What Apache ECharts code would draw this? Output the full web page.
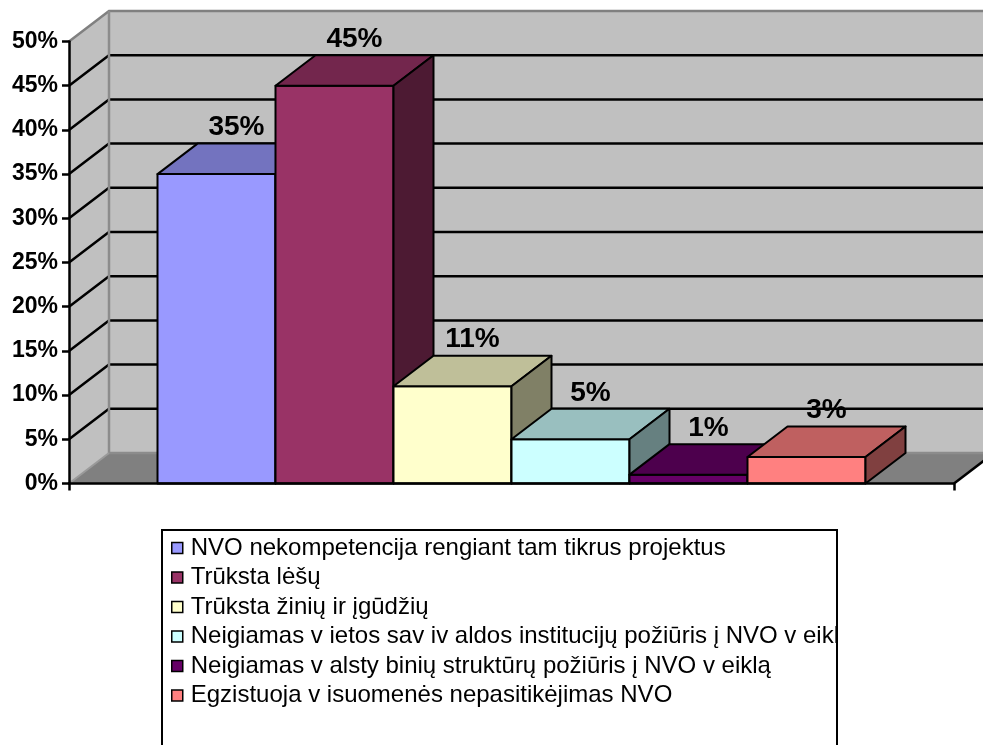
<!DOCTYPE html>
<html>
<head>
<meta charset="utf-8">
<script src="https://cdn.jsdelivr.net/npm/echarts@6/dist/echarts.min.js"></script>
<style>
html, body { margin: 0; padding: 0; background: #fff; }
#chart { width: 983px; height: 745px; }
</style>
</head>
<body>
<div id="chart"></div>
<script>
// duomenys
const names = [
  'NVO nekompetencija rengiant tam tikrus projektus',
  'Trūksta lėšų',
  'Trūksta žinių ir įgūdžių',
  'Neigiamas v ietos sav iv aldos institucijų požiūris į NVO v eiklą',
  'Neigiamas v alsty binių struktūrų požiūris į NVO v eiklą',
  'Egzistuoja v isuomenės nepasitikėjimas NVO'
]
const values = [35, 45, 11, 5, 1, 3]
const yTicks = [0, 5, 10, 15, 20, 25, 30, 35, 40, 45, 50]

// spalvos
const colors = ['#9999FF', '#993366', '#FFFFCC', '#CCFFFF', '#660066', '#FF8080']

// 3D gylio poslinkis pikseliais
const DX = 40
const DY = -30.5
const X_MIN = -0.75
const X_MAX = 6.75
const FONT = "'Liberation Sans', Arial, sans-serif"

function shade(hex, k) {
  const n = parseInt(hex.slice(1), 16)
  const r = Math.round(((n >> 16) & 255) * k)
  const g = Math.round(((n >> 8) & 255) * k)
  const b = Math.round((n & 255) * k)
  return 'rgb(' + r + ',' + g + ',' + b + ')'
}
function back(pt) {
  return [pt[0] + DX, pt[1] + DY]
}

let mychart = echarts.init(document.getElementById('chart'))

// sienos ir grindys
const wallSeries = {
  type: 'custom',
  silent: true,
  z: 1,
  data: [0],
  renderItem: function (params, api) {
    const top = yTicks[yTicks.length - 1]
    const fl = api.coord([X_MIN, 0])
    const fr = api.coord([X_MAX, 0])
    const tl = api.coord([X_MIN, top])
    const tr = api.coord([X_MAX, top])
    const children = []
    children.push({ type: 'polygon', shape: { points: [back(tl), back(tr), back(fr), back(fl)] }, style: { fill: '#c0c0c0' } })
    children.push({ type: 'polygon', shape: { points: [fl, tl, back(tl), back(fl)] }, style: { fill: '#c0c0c0' } })
    children.push({ type: 'polygon', shape: { points: [fl, fr, back(fr), back(fl)] }, style: { fill: '#808080' } })
    yTicks.forEach(function (t) {
      if (t === 0 || t === top) return
      const a = api.coord([X_MIN, t])
      const c = api.coord([X_MAX, t])
      children.push({ type: 'polyline', shape: { points: [a, back(a), back(c)] }, style: { stroke: '#000', lineWidth: 2.5, fill: null } })
    })
    // pilki krastai
    children.push({ type: 'polyline', shape: { points: [tl, back(tl), back(tr)] }, style: { stroke: '#808080', lineWidth: 2.5, fill: null } })
    children.push({ type: 'polyline', shape: { points: [back(tl), back(fl), back(fr)] }, style: { stroke: '#8c8c8c', lineWidth: 2.5, fill: null } })
    children.push({ type: 'line', shape: { x1: fl[0], y1: fl[1], x2: back(fl)[0], y2: back(fl)[1] }, style: { stroke: '#9a9a9a', lineWidth: 2 } })
    children.push({ type: 'line', shape: { x1: fr[0], y1: fr[1], x2: back(fr)[0], y2: back(fr)[1] }, style: { stroke: '#000', lineWidth: 2.5 } })
    return { type: 'group', children: children }
  }
}

// stulpeliai
const barSeries = names.map(function (name, i) {
  return {
    name: name,
    type: 'custom',
    z: 2,
    itemStyle: { color: colors[i] },
    data: [[i, values[i]]],
    renderItem: function (params, api) {
      const x = api.value(0)
      const v = api.value(1)
      const fb = api.coord([x, 0])
      const ft = api.coord([x, v])
      const rb = api.coord([x + 1, 0])
      const rt = api.coord([x + 1, v])
      const edge = { stroke: '#000', lineWidth: 2, lineJoin: 'round' }
      return {
        type: 'group',
        children: [
          { type: 'polygon', shape: { points: [fb, ft, rt, rb] }, style: Object.assign({ fill: colors[i] }, edge) },
          { type: 'polygon', shape: { points: [ft, rt, back(rt), back(ft)] }, style: Object.assign({ fill: shade(colors[i], 0.75) }, edge) },
          { type: 'polygon', shape: { points: [rb, rt, back(rt), back(rb)] }, style: Object.assign({ fill: shade(colors[i], 0.5) }, edge) },
          {
            type: 'text',
            style: {
              text: v + '%',
              x: (ft[0] + rt[0]) / 2 + DX / 2,
              y: ft[1] + DY - 16,
              align: 'center',
              verticalAlign: 'middle',
              fill: '#000',
              font: 'bold 28px ' + FONT
            }
          }
        ]
      }
    }
  }
})

mychart.setOption({
  animation: false,
  grid: {
    left: 69,
    right: 29,
    top: 41.5,
    bottom: 261.5
  },
  xAxis: {
    type: 'value',
    min: X_MIN,
    max: X_MAX,
    z: 5,
    splitLine: { show: false },
    axisLabel: { show: false },
    axisLine: { show: true, onZero: false, lineStyle: { color: '#000', width: 2.5 } },
    axisTick: { show: true, customValues: [X_MIN, X_MAX], length: 7, lineStyle: { color: '#000', width: 2.5 } }
  },
  yAxis: {
    type: 'value',
    min: 0,
    max: 50,
    interval: 5,
    z: 5,
    splitLine: { show: false },
    axisLine: { show: true, onZero: false, lineStyle: { color: '#000', width: 2.5 } },
    axisTick: { show: true, length: 7, lineStyle: { color: '#000', width: 2.5 } },
    axisLabel: {
      formatter: '{value}%',
      margin: 11,
      color: '#000',
      fontSize: 23,
      fontWeight: 'bold',
      fontFamily: FONT
    }
  },
  legend: {
    orient: 'vertical',
    left: 162,
    top: 530,
    padding: [6, 0, 0, 9],
    itemGap: 5.5,
    itemWidth: 11,
    itemHeight: 11,
    icon: 'rect',
    itemStyle: { borderColor: '#000', borderWidth: 1.5 },
    textStyle: {
      color: '#000',
      fontSize: 24,
      lineHeight: 24,
      fontFamily: FONT,
      padding: [0, 0, 0, 3]
    },
    data: names
  },
  // legendos rėmelis, nukerpa per ilgą tekstą
  graphic: [
    {
      type: 'rect',
      z: 100,
      silent: true,
      shape: { x: 837, y: 530, width: 146, height: 215 },
      style: { fill: '#fff' }
    },
    {
      type: 'rect',
      z: 101,
      silent: true,
      shape: { x: 162, y: 530, width: 675, height: 240 },
      style: { fill: null, stroke: '#000', lineWidth: 2 }
    }
  ],
  series: [wallSeries].concat(barSeries)
})
</script>
</body>
</html>
